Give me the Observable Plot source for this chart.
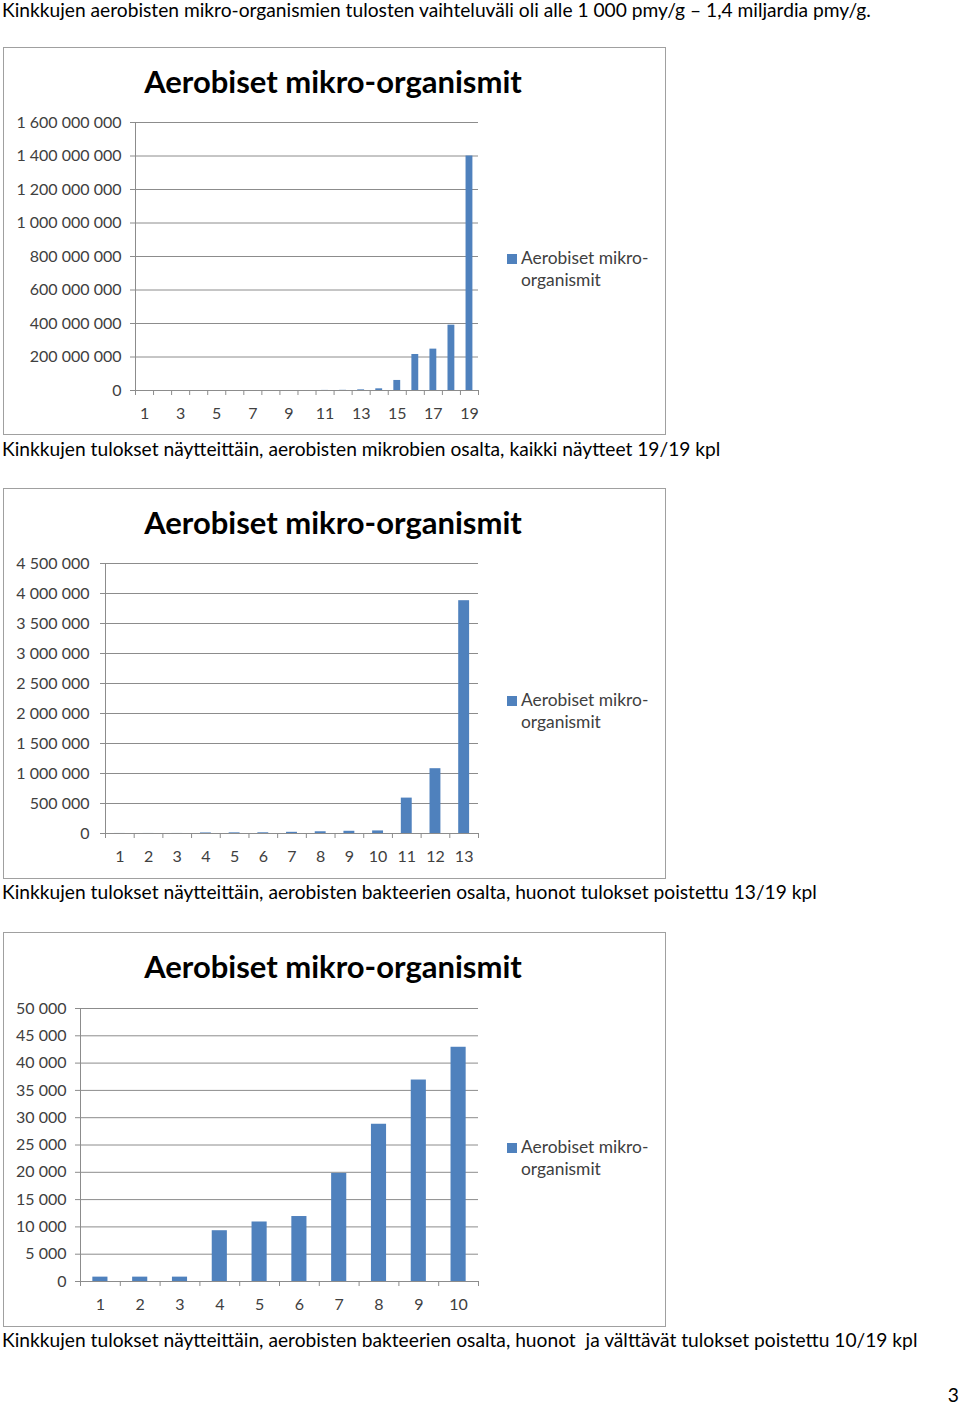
<!DOCTYPE html>
<html><head><meta charset="utf-8">
<script src="https://cdn.jsdelivr.net/npm/d3@7"></script>
<script src="https://cdn.jsdelivr.net/npm/@observablehq/plot@0.6"></script>
<style>
body{margin:0;width:960px;height:1404px;position:relative;background:#fff;font-family:Lato,"Open Sans",sans-serif;color:#000;overflow:hidden}
.line{position:absolute;left:2px;font-size:19.2px;line-height:22px;white-space:pre}
.frame{position:absolute;left:3px;width:663px;border:1.5px solid #a0a0a0;box-sizing:border-box}
.title{position:absolute;left:0;width:666px;text-align:center;font-weight:bold;font-size:31px;line-height:36px;white-space:nowrap}
.legend{position:absolute;left:507px;font-size:17.4px;color:#404040;line-height:22px;white-space:nowrap}
.legend .sw{display:inline-block;width:10px;height:10px;background:#4F81BD;margin-right:4px}
.legend .l2{padding-left:14px}
.chart{position:absolute;left:0}
</style></head>
<body>
<script>
// ---- data ----
const samples1 = [1,2,3,4,5,6,7,8,9,10,11,12,13,14,15,16,17,18,19];
const values1 = [800,800,800,9300,10900,11900,19800,28800,36900,42900,590000,1080000,3880000,10000000,60000000,215000000,247000000,390000000,1400000000];
const xLabels1 = [1,3,5,7,9,11,13,15,17,19];
const yTicks1 = [0,200000000,400000000,600000000,800000000,1000000000,1200000000,1400000000,1600000000];

const samples2 = [1,2,3,4,5,6,7,8,9,10,11,12,13];
const values2 = [800,800,800,9300,10900,11900,19800,28800,36900,42900,590000,1080000,3880000];
const xLabels2 = [1,2,3,4,5,6,7,8,9,10,11,12,13];
const yTicks2 = [0,500000,1000000,1500000,2000000,2500000,3000000,3500000,4000000,4500000];

const samples3 = [1,2,3,4,5,6,7,8,9,10];
const values3 = [800,800,800,9300,10900,11900,19800,28800,36900,42900];
const xLabels3 = [1,2,3,4,5,6,7,8,9,10];
const yTicks3 = [0,5000,10000,15000,20000,25000,30000,35000,40000,45000,50000];

const chartTitle = "Aerobiset mikro-organismit";
const legendLines = ["Aerobiset mikro-", "organismit"];
const texts = [
  {text: "Kinkkujen aerobisten mikro-organismien tulosten vaihteluväli oli alle 1 000 pmy/g – 1,4 miljardia pmy/g.", top: 0, lh: 19},
  {text: "Kinkkujen tulokset näytteittäin, aerobisten mikrobien osalta, kaikki näytteet 19/19 kpl", top: 438, lh: 22},
  {text: "Kinkkujen tulokset näytteittäin, aerobisten bakteerien osalta, huonot tulokset poistettu 13/19 kpl", top: 881, lh: 22},
  {text: "Kinkkujen tulokset näytteittäin, aerobisten bakteerien osalta, huonot  ja välttävät tulokset poistettu 10/19 kpl", top: 1329, lh: 22}
];

const fmt = v => d3.format(",")(v).replace(/,/g, " ");

function addDiv(cls, css, html) {
  const d = document.createElement("div");
  d.className = cls;
  Object.assign(d.style, css);
  d.innerHTML = html;
  document.body.appendChild(d);
  return d;
}

for (const t of texts) {
  const d = addDiv("line", {top: t.top + "px", lineHeight: t.lh + "px"}, "");
  d.textContent = t.text;
}
addDiv("line", {left: "auto", right: "1px", top: "1384px"}, "3");

function chart(cfg) {
  const {samples, values, xLabels, yTicks, top, height, mt, mb, ml, legendTop, yPad} = cfg;
  addDiv("frame", {top: top + "px", height: height + "px"}, "");
  addDiv("title", {top: (top + 16) + "px"}, chartTitle);
  addDiv("legend", {top: legendTop + "px"},
    `<span class="sw"></span>${legendLines[0]}<div class="l2">${legendLines[1]}</div>`);
  const data = samples.map((s, i) => ({s, v: values[i]}));
  const n = samples.length;
  const bounds = d3.range(0.5, n + 1, 1);
  const axisColor = "#8c8c8c";
  const svg = Plot.plot({
    width: 666, height, marginTop: mt, marginBottom: mb, marginLeft: ml, marginRight: 188,
    style: {background: "transparent", fontFamily: "Lato, 'Open Sans', sans-serif", fontSize: "16px", color: "#404040", overflow: "visible"},
    x: {type: "linear", domain: [0.5, n + 0.5]},
    y: {domain: [0, yTicks[yTicks.length - 1]]},
    marks: [
      Plot.gridY(yTicks, {stroke: axisColor, strokeOpacity: 1}),
      Plot.rectY(data, {x1: d => d.s - 0.19, x2: d => d.s + 0.19, y: "v", fill: "#4F81BD"}),
      Plot.ruleX([0.5], {stroke: axisColor}),
      Plot.ruleY([0], {stroke: axisColor}),
      Plot.axisY({ticks: yTicks, tickSize: 5, tickPadding: yPad, tickFormat: fmt, stroke: axisColor, fill: "#404040", label: null}),
      Plot.axisX({ticks: bounds, tickSize: 5, tickFormat: () => "", stroke: axisColor, label: null}),
      Plot.axisX({ticks: xLabels, tickSize: 0, tickPadding: 17, tickFormat: d => String(d), fill: "#404040", label: null})
    ]
  });
  svg.classList.add("chart");
  svg.style.top = top + "px";
  svg.style.position = "absolute";
  document.body.appendChild(svg);
}

chart({samples: samples1, values: values1, xLabels: xLabels1, yTicks: yTicks1, top: 47, height: 388, mt: 75, mb: 45, ml: 135, legendTop: 247, yPad: 9});
chart({samples: samples2, values: values2, xLabels: xLabels2, yTicks: yTicks2, top: 488, height: 391, mt: 75, mb: 46, ml: 105, legendTop: 689, yPad: 11});
chart({samples: samples3, values: values3, xLabels: xLabels3, yTicks: yTicks3, top: 932, height: 395, mt: 76, mb: 46, ml: 80, legendTop: 1136, yPad: 9});
</script>
</body></html>
